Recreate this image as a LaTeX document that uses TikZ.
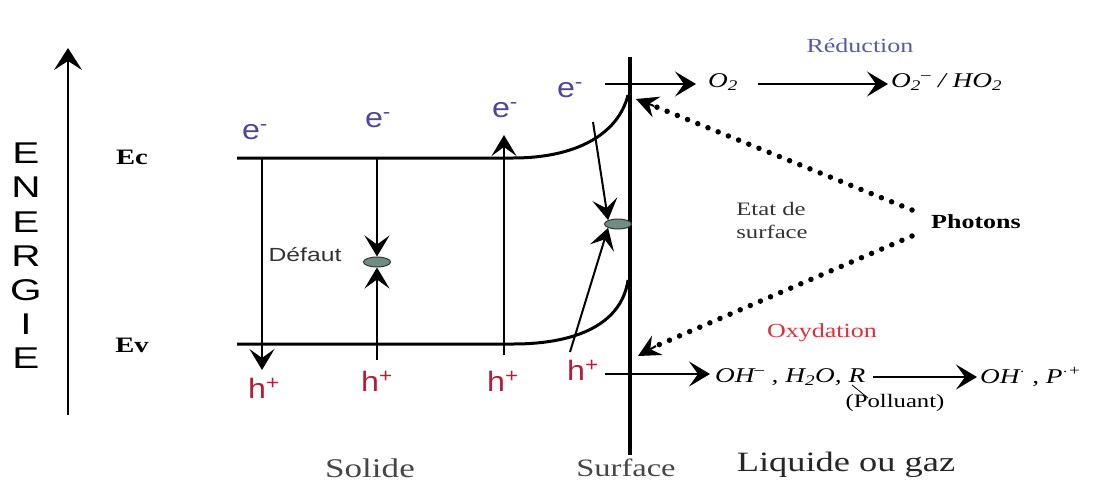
\documentclass[tikz,border=0pt]{standalone}
\usepackage{fontspec}
\setmainfont{Liberation Serif}
\setsansfont{Liberation Sans}
\usetikzlibrary{arrows.meta,shapes.geometric}
\definecolor{ecol}{RGB}{80,70,150}
\definecolor{hcol}{RGB}{180,30,60}
\definecolor{redcol}{RGB}{90,90,170}
\definecolor{oxcol}{RGB}{215,50,60}
\definecolor{defcol}{RGB}{110,140,130}
\definecolor{botcol}{RGB}{70,70,70}
\newcommand{\hs}[1]{\scalebox{1.3}[1]{#1}}
\newcommand{\hsl}[1]{\scalebox{1.15}[1]{#1}}
\begin{document}
\begin{tikzpicture}[x=1pt,y=-1pt,
  band/.style={line width=3pt},
  arr/.style={line width=2pt,-{Stealth[length=21pt,width=25pt,inset=9pt]}},
  elab/.style={font=\sffamily\fontsize{28}{30}\selectfont,text=ecol,inner sep=0pt},
  hlab/.style={font=\sffamily\fontsize{28}{30}\selectfont,text=hcol,inner sep=0pt},
  lvl/.style={font=\bfseries\fontsize{22}{24}\selectfont,inner sep=0pt},
  chem/.style={font=\itshape\fontsize{21}{23}\selectfont,inner sep=1pt},
  trap/.style={ellipse,draw=black!80,line width=1pt,fill=defcol,minimum width=27pt,minimum height=10pt,inner sep=0pt},
  photo/.style={line width=5.5pt,dash pattern=on 0pt off 11pt,line cap=round},
  photohead/.style={line width=2pt,-{Stealth[length=22pt,width=22pt,inset=8pt]}},
  bot/.style={font=\fontsize{27}{29}\selectfont,text=botcol,inner sep=0pt}
]
\useasboundingbox (0,0) rectangle (1119,485);
% energy axis
\coordinate (ax0) at (68,415);
\coordinate (ax1) at (68,48);
\draw[line width=2.5pt,-{Stealth[length=22pt,width=28pt,inset=9pt]}] (ax0) -- (ax1);
\node[font=\sffamily\fontsize{30}{34.2}\selectfont,align=center,inner sep=0pt] (energie) at (26,256) {\scalebox{1.35}[1]{E}\\\scalebox{1.35}[1]{N}\\\scalebox{1.35}[1]{E}\\\scalebox{1.35}[1]{R}\\\scalebox{1.35}[1]{G}\\\scalebox{1.35}[1]{I}\\\scalebox{1.35}[1]{E}};
\node[lvl] (ec) at (132,157) {\hs{Ec}};
\node[lvl] (ev) at (132,345) {\hs{Ev}};
% surface line
\coordinate (s0) at (630,57);
\coordinate (s1) at (630,455);
\draw[line width=4pt] (s0) -- (s1);
% bands
\coordinate (ca) at (237,158);
\coordinate (cb) at (513,158);
\coordinate (cc) at (628,95);
\coordinate (va) at (237,344);
\coordinate (vb) at (513,344);
\coordinate (vc) at (628,280);
\draw[band] (ca) -- (cb) .. controls (575,158) and (618,135) .. (cc);
\draw[band] (va) -- (vb) .. controls (580,344) and (622,322) .. (vc);
% labels e- h+
\node[elab] (e1) at (255,132) {\hsl{e\textsuperscript{-}}};
\node[elab] (e2) at (378,120) {\hsl{e\textsuperscript{-}}};
\node[elab] (e3) at (505,110) {\hsl{e\textsuperscript{-}}};
\node[elab] (e4) at (570,90) {\hsl{e\textsuperscript{-}}};
\node[hlab] (h1) at (264,388) {\hsl{h\textsuperscript{+}}};
\node[hlab] (h2) at (377,381) {\hsl{h\textsuperscript{+}}};
\node[hlab] (h3) at (503,381) {\hsl{h\textsuperscript{+}}};
\node[hlab] (h4) at (583,370) {\hsl{h\textsuperscript{+}}};
% arrow 1
\coordinate (a1s) at (262,158);
\coordinate (a1e) at (262,370);
\draw[arr] (a1s) -- (a1e);
% defect
\node[trap] (def) at (377,262) {};
\node[font=\sffamily\fontsize{19}{21}\selectfont,text=black!80,inner sep=0pt] (deflab) at (305,255) {\hs{Défaut}};
\coordinate (a2s) at (377,158);
\coordinate (a2b) at (377,360);
\draw[arr] (a2s) -- (def.north);
\draw[arr] (a2b) -- (def.south);
% arrow 3
\coordinate (a3s) at (504,355);
\coordinate (a3e) at (504,135);
\draw[arr] (a3s) -- (a3e);
% surface state
\node[trap] (ss) at (618,224) {};
\coordinate (a4s) at (593,122);
\coordinate (a5s) at (570,352);
\draw[arr] (a4s) -- (ss.north west);
\draw[arr] (a5s) -- (ss.south west);
% reduction
\coordinate (r0) at (605,84);
\coordinate (r1) at (696,84);
\coordinate (r2) at (758,84);
\coordinate (r3) at (888,84);
\node[chem] (o2) at (723,82) {\hs{O\textsubscript{2}}};
\node[chem,anchor=west] (o2m) at (890,82) {\hs{O\textsubscript{2}\textsuperscript{--} / HO\textsubscript{2}}};
\draw[arr] (r0) -- (r1);
\draw[arr] (r2) -- (r3);
\node[font=\fontsize{20}{22}\selectfont,text=redcol,inner sep=0pt] (red) at (860,46) {\hs{Réduction}};
% photons
\node[font=\bfseries\fontsize{20}{22}\selectfont,inner sep=0pt] (ph) at (976,222) {\hs{Photons}};
\node[font=\fontsize{19}{23}\selectfont,align=left,text=black!80,inner sep=0pt] (etat) at (772,220) {\hs{Etat de}\\\hs{surface}};
\coordinate (p1) at (912,210);
\coordinate (p2) at (912,236);
\coordinate (pm1) at (654,106);
\coordinate (pm2) at (656,346);
\coordinate (pt1) at (636,99);
\coordinate (pt2) at (638,356);
\draw[photo] (p1) -- (pm1);
\draw[photo] (p2) -- (pm2);
\draw[photohead] (pm1) -- (pt1);
\draw[photohead] (pm2) -- (pt2);
% oxidation
\coordinate (o0) at (605,374);
\coordinate (o1) at (710,374);
\draw[arr] (o0) -- (o1);
\node[chem,anchor=west] (ohm) at (714,377) {\hs{OH\textsuperscript{--} , H\textsubscript{2}O, R}};
\coordinate (o2s) at (873,377);
\coordinate (o2e) at (977,377);
\draw[arr] (o2s) -- (o2e);
\node[chem,anchor=west] (ohp) at (979,377) {\hs{OH\textsuperscript{$\cdot$} , P\textsuperscript{$\cdot$+}}};
\node[font=\fontsize{19}{21}\selectfont,inner sep=0pt] (pol) at (895,403) {\hs{(Polluant)}};
\coordinate (rl0) at (852,385);
\coordinate (rl1) at (868,398);
\draw[line width=0.8pt] (rl0) -- (rl1);
\node[font=\fontsize{20}{22}\selectfont,text=oxcol,inner sep=0pt] (ox) at (822,333) {\hs{Oxydation}};
% bottom labels
\node[bot] (sol) at (370,468) {\hs{Solide}};
\node[bot,font=\fontsize{25}{27}\selectfont] (surf) at (626,468) {\hs{Surface}};
\node[bot,text=black!85,font=\fontsize{28}{30}\selectfont] (liq) at (846,465) {\hs{Liquide ou gaz}};
\end{tikzpicture}
\end{document}
